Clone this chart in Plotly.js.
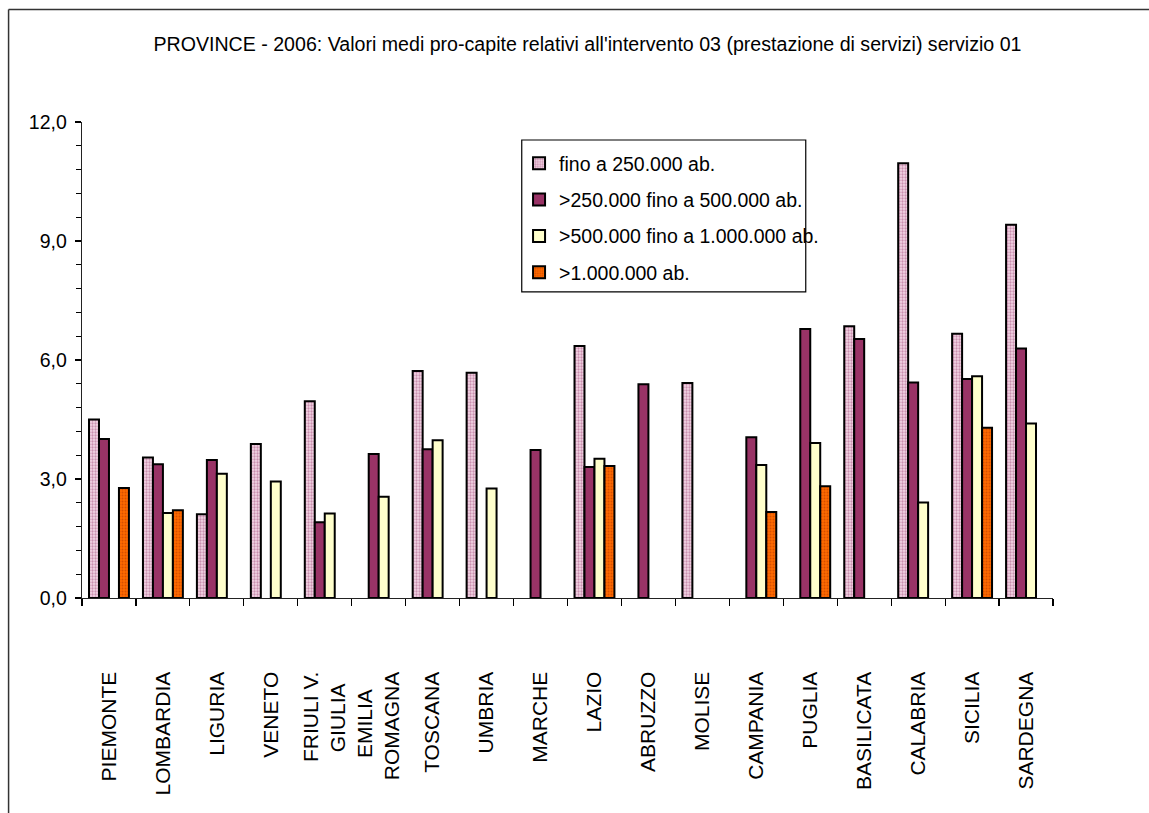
<!DOCTYPE html>
<html>
<head>
<meta charset="utf-8">
<script src="https://cdn.plot.ly/plotly-3.0.1.min.js"></script>
<style>
  html, body { margin: 0; padding: 0; background: #ffffff; }
  #chart { width: 1149px; height: 813px; }
</style>
</head>
<body>
<div id="chart"></div>
<script>
// Regions (category axis); two-line names keep their short line centred
const NB = '\u00a0';
const regions = [
  'PIEMONTE', 'LOMBARDIA', 'LIGURIA', 'VENETO', 'FRIULI V.<br>GIULIA' + NB.repeat(2),
  'EMILIA' + NB.repeat(3) + '<br>ROMAGNA', 'TOSCANA', 'UMBRIA', 'MARCHE', 'LAZIO', 'ABRUZZO',
  'MOLISE', 'CAMPANIA', 'PUGLIA', 'BASILICATA', 'CALABRIA', 'SICILIA', 'SARDEGNA'
];

// Series names
const seriesNames = [
  'fino a 250.000 ab.',
  '>250.000 fino a 500.000 ab.',
  '>500.000 fino a 1.000.000 ab.',
  '>1.000.000 ab.'
];

// Average per-capita values by province size class (null = no provinces in class)
const upTo250k = [4.50, 3.54, 2.11, 3.88, 4.96, null, 5.72, 5.68, null, 6.35, null, 5.42, null, null, 6.85, 10.96, 6.66, 9.41];
const from250kTo500k = [4.01, 3.37, 3.48, null, 1.91, 3.63, 3.75, null, 3.73, 3.30, 5.39, null, 4.05, 6.78, 6.53, 5.43, 5.52, 6.29];
const from500kTo1M = [null, 2.14, 3.13, 2.94, 2.13, 2.55, 3.98, 2.76, null, 3.51, null, null, 3.35, 3.91, null, 2.41, 5.59, 4.40];
const over1M = [2.77, 2.21, null, null, null, null, null, null, null, 3.33, null, null, 2.17, 2.82, null, null, 4.29, null];

// Y axis ticks
const yTickVals = [0, 3, 6, 9, 12];

const FONT = 'Liberation Sans, Arial, Helvetica, sans-serif';
const W = 1149, H = 813;
const M = { l: 81.5, r: 95.5, t: 122, b: 215.3 };
const plotW = W - M.l - M.r, plotH = H - M.t - M.b;
const px = x => (x - M.l) / plotW;          // pixel x -> paper
const py = y => (H - M.b - y) / plotH;      // pixel y -> paper

const outline = { color: '#000000', width: 2 };

const traces = [
  {
    name: seriesNames[0], y: upTo250k,
    marker: { color: '#f2cfe0', line: outline,
      pattern: { shape: '.', bgcolor: '#f4d6e6', fgcolor: '#c98fae', size: 3, solidity: 0.45, fillmode: 'replace' } }
  },
  {
    name: seriesNames[1], y: from250kTo500k,
    marker: { color: '#993366', line: outline }
  },
  {
    name: seriesNames[2], y: from500kTo1M,
    marker: { color: '#ffffcc', line: outline }
  },
  {
    name: seriesNames[3], y: over1M,
    marker: { color: '#ff6600', line: outline,
      pattern: { shape: '.', bgcolor: '#ff6a00', fgcolor: '#d84f00', size: 3, solidity: 0.35, fillmode: 'replace' } }
  }
].map((t, i) => Object.assign({
  type: 'bar', x: regions, legendgroup: 'g' + i, hoverinfo: 'x+y+name'
}, t));

const frameColor = '#333333';

const layout = {
  width: W, height: H,
  margin: M,
  paper_bgcolor: '#ffffff',
  plot_bgcolor: '#ffffff',
  font: { family: FONT, color: '#000000', size: 19 },
  separators: ',.',
  barmode: 'group',
  bargap: 0.26,
  bargroupgap: 0,
  title: {
    text: "PROVINCE - 2006: Valori medi pro-capite relativi all'intervento 03 (prestazione di servizi) servizio 01",
    font: { family: FONT, size: 19.6, color: '#000000' },
    xref: 'container', x: 587.5 / W, xanchor: 'center',
    yref: 'container', y: 1 - 44 / H, yanchor: 'middle'
  },
  xaxis: {
    type: 'category',
    tickangle: -90,
    ticks: 'outside', tickson: 'boundaries', ticklen: 7, tickwidth: 1.2, tickcolor: '#000000',
    showline: true, linecolor: '#222222', linewidth: 1.3,
    showgrid: false, zeroline: false,
    ticklabelstandoff: 64,
    tickfont: { family: FONT, size: 21, color: '#000000' }
  },
  yaxis: {
    range: [0, 12],
    tickvals: yTickVals,
    tickformat: '.1f',
    ticks: 'outside', ticklen: 6, tickwidth: 1.2, tickcolor: '#000000',
    minor: { dtick: 0.6, ticks: 'outside', ticklen: 5, tickwidth: 1.2, tickcolor: '#000000', showgrid: false },
    showline: true, linecolor: '#222222', linewidth: 1.3,
    showgrid: false, zeroline: false,
    ticklabelstandoff: 4,
    tickfont: { family: FONT, size: 19.5, color: '#000000' }
  },
  showlegend: true,
  legend: {
    x: px(519), xanchor: 'left',
    y: py(144), yanchor: 'top',
    bgcolor: 'rgba(0,0,0,0)',
    borderwidth: 0,
    tracegroupgap: 8,
    traceorder: 'grouped',
    font: { family: FONT, size: 19.5, color: '#000000' }
  },
  shapes: [
    // legend frame
    { type: 'rect', xref: 'paper', yref: 'paper',
      x0: px(521.7), x1: px(806), y0: py(291.7), y1: py(140),
      line: { color: '#000000', width: 1.2 }, fillcolor: 'rgba(0,0,0,0)', layer: 'below' },
    // chart area border (top and left edges visible)
    { type: 'line', xref: 'paper', yref: 'paper',
      x0: px(8), x1: px(1160), y0: py(9.5), y1: py(9.5),
      line: { color: frameColor, width: 1.5 } },
    { type: 'line', xref: 'paper', yref: 'paper',
      x0: px(8), x1: px(8), y0: py(9.5), y1: py(830),
      line: { color: frameColor, width: 1.5 } }
  ]
};

Plotly.newPlot('chart', traces, layout, { displayModeBar: false, staticPlot: true });
</script>
</body>
</html>
